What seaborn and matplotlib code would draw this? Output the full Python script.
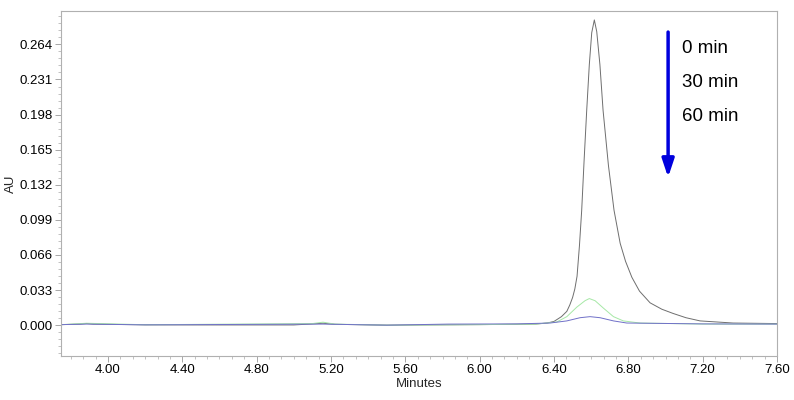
import numpy as np
import pandas as pd
import matplotlib
matplotlib.use('Agg')
import matplotlib.pyplot as plt
import seaborn as sns
from matplotlib.ticker import MultipleLocator, FormatStrFormatter

# chromatogram readings (time in minutes, absorbance in AU)
t_0 = [3.75, 3.85, 3.885, 3.92, 4.2, 4.6, 5.0, 5.1, 5.157, 5.22, 5.5, 6.0, 6.3,
       6.363, 6.40, 6.44, 6.469, 6.485, 6.50, 6.512, 6.524, 6.537, 6.549, 6.562,
       6.576, 6.59, 6.603, 6.617, 6.63, 6.647, 6.664, 6.693, 6.723, 6.756, 6.785,
       6.819, 6.86, 6.917, 6.98, 7.041, 7.11, 7.186, 7.364, 7.60]
au_0 = [0.0005, 0.001, 0.0016, 0.001, 0.0003, 0.0002, 0.0002, 0.0012, 0.0018, 0.0008,
        0.0, 0.0005, 0.001, 0.002, 0.0035, 0.008, 0.013, 0.019, 0.026, 0.034, 0.046,
        0.075, 0.108, 0.155, 0.202, 0.245, 0.275, 0.287, 0.276, 0.245, 0.202, 0.150,
        0.108, 0.077, 0.060, 0.045, 0.032, 0.021, 0.015, 0.011, 0.007, 0.004, 0.002,
        0.0015]

t_30 = [3.75, 3.885, 4.2, 5.1, 5.157, 5.22, 5.5, 6.0, 6.3, 6.415, 6.469, 6.523,
        6.567, 6.590, 6.621, 6.666, 6.720, 6.773, 6.863, 7.2, 7.6]
au_30 = [0.0005, 0.0018, 0.0004, 0.0015, 0.0028, 0.001, 0.0, 0.0005, 0.001, 0.003,
         0.008, 0.017, 0.023, 0.025, 0.023, 0.016, 0.008, 0.004, 0.002, 0.001, 0.001]

t_60 = [3.75, 3.885, 4.2, 5.157, 5.5, 5.83, 6.2, 6.379, 6.469, 6.540, 6.594, 6.648,
        6.720, 6.792, 7.2, 7.6]
au_60 = [0.0005, 0.001, 0.0003, 0.001, 0.0, 0.001, 0.0012, 0.002, 0.004, 0.007,
         0.008, 0.007, 0.004, 0.002, 0.0012, 0.001]

labels = ['0 min', '30 min', '60 min']
colors = {'0 min': '#6e6e6e', '30 min': '#a6e8a6', '60 min': '#7070c8'}

df = pd.concat([
    pd.DataFrame({'Minutes': t_0, 'AU': au_0, 'sample': '0 min'}),
    pd.DataFrame({'Minutes': t_30, 'AU': au_30, 'sample': '30 min'}),
    pd.DataFrame({'Minutes': t_60, 'AU': au_60, 'sample': '60 min'}),
])

sns.set_theme(style='ticks')
plt.rcParams['font.family'] = ['Liberation Sans', 'DejaVu Sans']

fig = plt.figure(figsize=(7.94, 4.0), dpi=100)
ax = fig.add_axes([0.0768, 0.11, 0.9018, 0.8625])

sns.lineplot(data=df, x='Minutes', y='AU', hue='sample', palette=colors,
             hue_order=labels, linewidth=0.7, legend=False, ax=ax, sort=False)

ax.set_xlim(3.747, 7.60)
ax.set_ylim(-0.029, 0.2954)
ax.xaxis.set_major_locator(MultipleLocator(0.4))
ax.xaxis.set_minor_locator(MultipleLocator(0.4 / 6))
ax.xaxis.set_major_formatter(FormatStrFormatter('%.2f'))
ax.yaxis.set_major_locator(MultipleLocator(0.033))
ax.yaxis.set_minor_locator(MultipleLocator(0.033 / 5))
ax.yaxis.set_major_formatter(FormatStrFormatter('%.3f'))
ax.tick_params(which='major', length=4, width=0.6, color='#999999', labelsize=9.5,
               labelcolor='black', pad=2)
ax.tick_params(which='minor', length=2, width=0.5, color='#aaaaaa')
for s in ax.spines.values():
    s.set_color('#b0b0b0')
    s.set_linewidth(0.8)
ax.set_xlabel('Minutes', fontsize=9.5, labelpad=1)
ax.set_ylabel('AU', fontsize=9.5, labelpad=2)

# time arrow and labels
ax.annotate('', xy=(7.014, 0.139), xytext=(7.014, 0.2756),
            arrowprops=dict(arrowstyle='-|>,head_length=0.9,head_width=0.3',
                            color='#0000dd', lw=2.5, shrinkA=0, shrinkB=0))
for lab, yv in zip(labels, [0.2606, 0.2286, 0.1966]):
    ax.text(7.089, yv, lab, fontsize=13.5, va='center', ha='left', color='black')

fig.savefig('out.png', dpi=100)
